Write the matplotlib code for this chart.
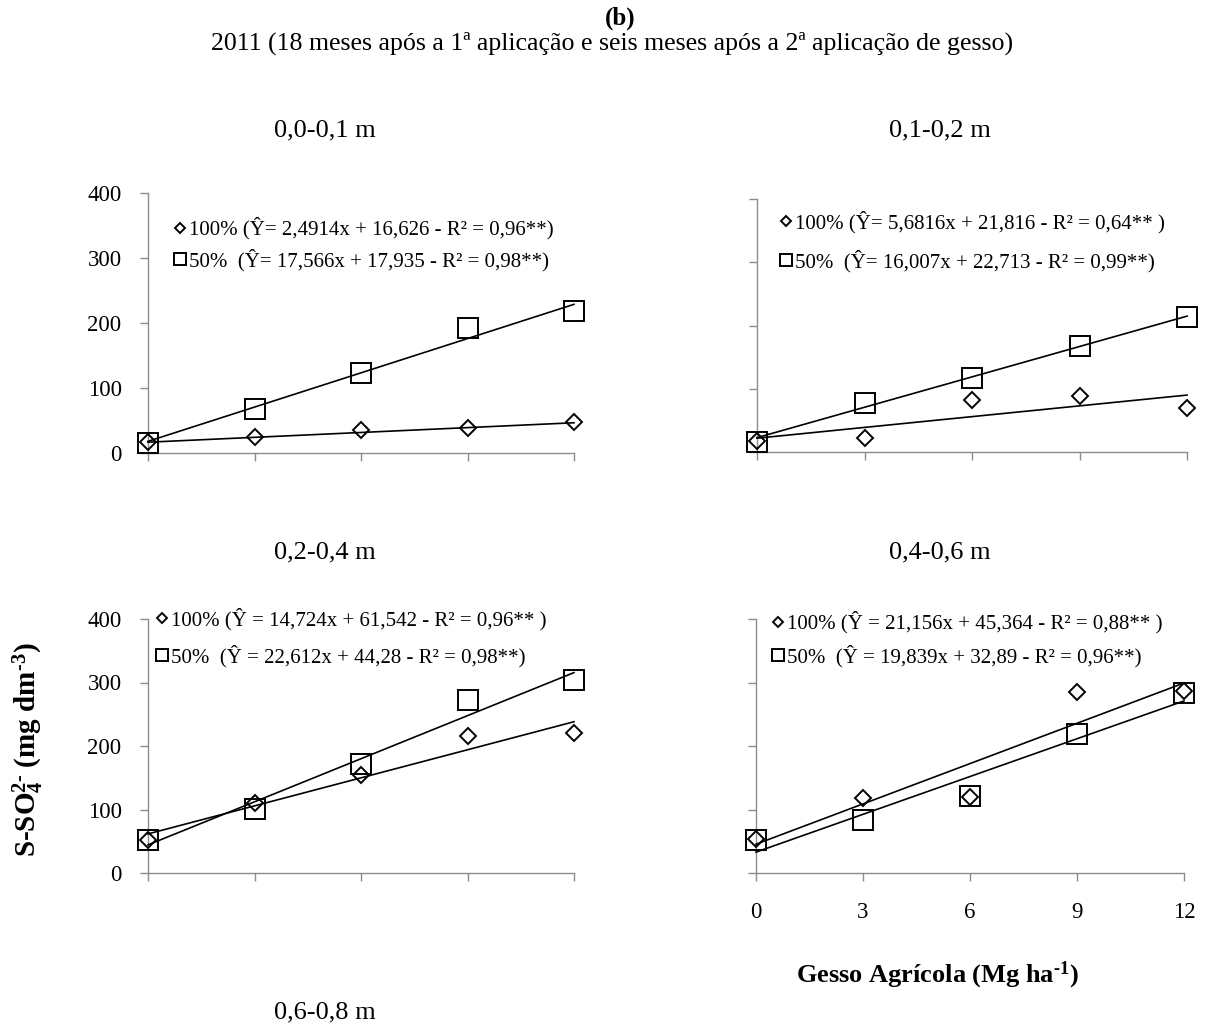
import numpy as np
import matplotlib
matplotlib.use('Agg')
import matplotlib.pyplot as plt

plt.rcParams['font.family'] = ['Liberation Serif', 'DejaVu Serif']
plt.rcParams['mathtext.fontset'] = 'custom'
plt.rcParams['mathtext.rm'] = 'Liberation Serif'
plt.rcParams['mathtext.bf'] = 'Liberation Serif:bold'
plt.rcParams['mathtext.default'] = 'bf'

W, H = 1212, 1026

# doses de gesso (Mg ha-1)
doses = [0, 3, 6, 9, 12]
yticks = [0, 100, 200, 300, 400]

depths = ['0,0-0,1 m', '0,1-0,2 m', '0,2-0,4 m', '0,4-0,6 m']
extra_depth = '0,6-0,8 m'

# S-SO4, 100% e 50% da dose
s100_00_01 = [17, 24, 35, 39, 47]
s50_00_01 = [15, 68, 123, 193, 219]
s100_01_02 = [17, 22, 82, 88, 70]
s50_01_02 = [16, 77, 117, 168, 213]
s100_02_04 = [52, 110, 155, 215, 220]
s50_02_04 = [52, 101, 172, 273, 304]
s100_04_06 = [53, 118, 120, 285, 287]
s50_04_06 = [52, 84, 122, 219, 283]

# coeficientes das retas (a, b)
fit100 = [(2.4914, 16.626), (5.6816, 21.816), (14.724, 61.542), (21.156, 45.364)]
fit50 = [(17.566, 17.935), (16.007, 22.713), (22.612, 44.28), (19.839, 32.89)]

labels100 = ['100% (Ŷ= 2,4914x + 16,626 - R² = 0,96**)',
             '100% (Ŷ= 5,6816x + 21,816 - R² = 0,64** )',
             '100% (Ŷ = 14,724x + 61,542 - R² = 0,96** )',
             '100% (Ŷ = 21,156x + 45,364 - R² = 0,88** )']
labels50 = ['50%  (Ŷ= 17,566x + 17,935 - R² = 0,98**)',
            '50%  (Ŷ= 16,007x + 22,713 - R² = 0,99**)',
            '50%  (Ŷ = 22,612x + 44,28 - R² = 0,98**)',
            '50%  (Ŷ = 19,839x + 32,89 - R² = 0,96**)']

GRAY = '#8c8c8c'


def px_rect(left, right, top, bottom):
    return [left / W, 1 - bottom / H, (right - left) / W, (bottom - top) / H]


def draw_panel(fig, rect, s100, s50, idx, leg_anchor, leg_space, show_y, show_x):
    ax = fig.add_axes(rect)
    x = np.array(doses, dtype=float)
    a, b = fit100[idx]
    ax.plot(x, a * x + b, color='black', lw=1.2, zorder=3, clip_on=False)
    a, b = fit50[idx]
    ax.plot(x, a * x + b, color='black', lw=1.2, zorder=3, clip_on=False)
    h1, = ax.plot(doses, s100, ls='none', marker='D', ms=8.5, mfc='none', mec='black',
                  mew=1.4, clip_on=False, zorder=4)
    h2, = ax.plot(doses, s50, ls='none', marker='s', ms=14, mfc='none', mec='black',
                  mew=1.4, clip_on=False, zorder=4)
    ax.set_xlim(0, 12)
    ax.set_ylim(0, 400)
    ax.set_xticks(doses)
    ax.set_yticks(yticks)
    for s in ['top', 'right']:
        ax.spines[s].set_visible(False)
    for s in ['left', 'bottom']:
        ax.spines[s].set_color(GRAY)
        ax.spines[s].set_linewidth(1.0)
    ax.tick_params(axis='both', direction='out', length=6, width=1.0, color=GRAY,
                   labelsize=16.5)
    ax.tick_params(axis='y', pad=13)
    ax.tick_params(axis='x', pad=15)
    if not show_y:
        ax.set_yticklabels([])
    if not show_x:
        ax.set_xticklabels([])
    ax.legend([h1, h2], [labels100[idx], labels50[idx]], loc='center left',
              bbox_to_anchor=leg_anchor, frameon=False, fontsize=15,
              markerscale=0.62, handlelength=0.6, handletextpad=0.15,
              labelspacing=leg_space, borderpad=0, borderaxespad=0)
    return ax


def main():
    fig = plt.figure(figsize=(W / 100, H / 100), dpi=100)

    fig.text(620 / W, 1 - 18 / H, '(b)', ha='center', va='center', fontsize=18,
             fontweight='bold')
    fig.text(612 / W, 1 - 43 / H,
             '2011 (18 meses após a 1ª aplicação e seis meses após a 2ª aplicação de gesso)',
             ha='center', va='center', fontsize=18.6)

    draw_panel(fig, px_rect(148, 574, 193, 453), s100_00_01, s50_00_01, 0,
               (0.060, 0.802), 0.45, True, False)
    draw_panel(fig, px_rect(757, 1187, 199, 452), s100_01_02, s50_01_02, 1,
               (0.053, 0.831), 0.77, False, False)
    draw_panel(fig, px_rect(148, 574, 619, 873), s100_02_04, s50_02_04, 2,
               (0.018, 0.927), 0.69, True, False)
    draw_panel(fig, px_rect(756, 1184, 619, 873), s100_04_06, s50_04_06, 3,
               (0.037, 0.920), 0.53, False, True)

    title_pos = [(325, 130), (940, 130), (325, 552), (940, 552)]
    for name, (px, py) in zip(depths, title_pos):
        fig.text(px / W, 1 - py / H, name, ha='center', va='center', fontsize=19)
    fig.text(325 / W, 1 - 1012 / H, extra_depth, ha='center', va='center', fontsize=19)

    fig.text(28 / W, 1 - 750 / H, 'S-SO$_4^{2\u2010}$ (mg dm$^{\u20103}$)', rotation=90,
             ha='center', va='center', fontsize=21, fontweight='bold')
    fig.text(937 / W, 1 - 975 / H, 'Gesso Agrícola (Mg ha$^{\u20101}$)', ha='center',
             va='center', fontsize=19, fontweight='bold')

    fig.savefig('out.png', dpi=100)


if __name__ == "__main__":
    main()
